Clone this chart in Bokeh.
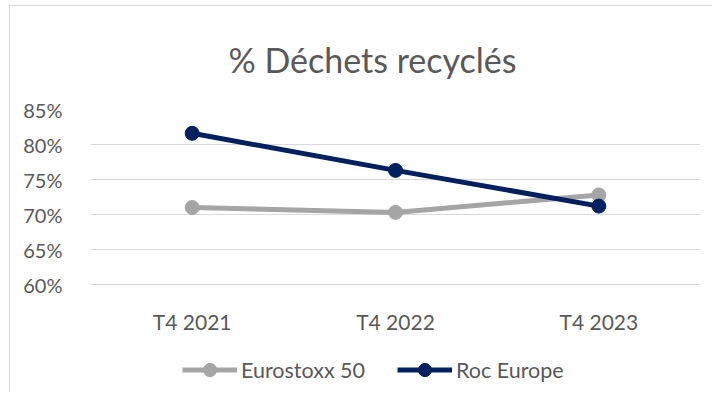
from bokeh.plotting import figure
from bokeh.models import Range1d, FactorRange, Legend, LegendItem, NumeralTickFormatter
from bokeh.core.properties import value
from bokeh.embed import file_html
from bokeh.resources import INLINE

categories = ["T4 2021", "T4 2022", "T4 2023"]
eurostoxx = [0.710, 0.703, 0.728]
roc_europe = [0.816, 0.763, 0.712]
y_ticks = [0.60, 0.65, 0.70, 0.75, 0.80, 0.85]

FONT = "Lato"
TXT = "#595959"
GRAY = "#A5A5A5"
NAVY = "#002060"

# frame extends below the 60% line so the legend fits inside it
FRAME_H = 283
PX_PER_UNIT = 175 / 0.25
y_top = 0.85
y_bottom = y_top - FRAME_H / PX_PER_UNIT
label_y = y_top - 212 / PX_PER_UNIT  # category labels baseline

p = figure(frame_width=610, frame_height=FRAME_H, output_backend="svg", toolbar_location=None,
           x_range=FactorRange(*categories), y_range=Range1d(y_bottom, y_top),
           min_border_left=80, min_border_right=12, min_border_top=103, min_border_bottom=0,
           title="% Déchets recyclés")
p.styles = {"border-left": "1px solid #d9d9d9", "border-top": "1px solid #d9d9d9"}
p.margin = (5, 0, 0, 9)
p.outline_line_color = None
p.title.align = "left"
p.title.offset = 138
p.title.text_font = FONT
p.title.text_font_size = "34px"
p.title.text_font_style = "normal"
p.title.text_color = TXT
p.title.standoff = 60

p.xgrid.grid_line_color = None
p.ygrid.grid_line_color = "#D9D9D9"
p.ygrid.grid_line_width = 1
p.yaxis.ticker = y_ticks
p.yaxis.formatter = NumeralTickFormatter(format="0%")
p.yaxis.axis_line_color = None
p.yaxis.major_tick_line_color = None
p.yaxis.minor_tick_line_color = None
p.yaxis.major_label_text_font = FONT
p.yaxis.major_label_text_font_size = "20px"
p.yaxis.major_label_text_color = TXT
p.yaxis.major_label_standoff = 22
p.xaxis.visible = False

p.text(x=categories, y=[label_y] * len(categories), text=categories,
       text_font=value(FONT), text_font_size=value("21px"), text_color=TXT,
       text_align="center", text_baseline="alphabetic")

l1 = p.line(categories, eurostoxx, line_color=GRAY, line_width=5)
s1 = p.scatter(categories, eurostoxx, size=14, fill_color=GRAY, line_color=GRAY)
l2 = p.line(categories, roc_europe, line_color=NAVY, line_width=5)
s2 = p.scatter(categories, roc_europe, size=14, fill_color=NAVY, line_color=NAVY)

legend = Legend(items=[LegendItem(label="Eurostoxx 50", renderers=[l1, s1]),
                       LegendItem(label="Roc Europe", renderers=[l2, s2])],
                orientation="horizontal", location=(92, 6),
                label_text_font=FONT, label_text_font_size="21.5px", label_text_color=TXT,
                glyph_width=55, glyph_height=33, label_standoff=4, spacing=32, padding=0,
                border_line_color=None, background_fill_alpha=0)
p.add_layout(legend, "center")

open("out.html", "w").write(file_html(p, INLINE))
